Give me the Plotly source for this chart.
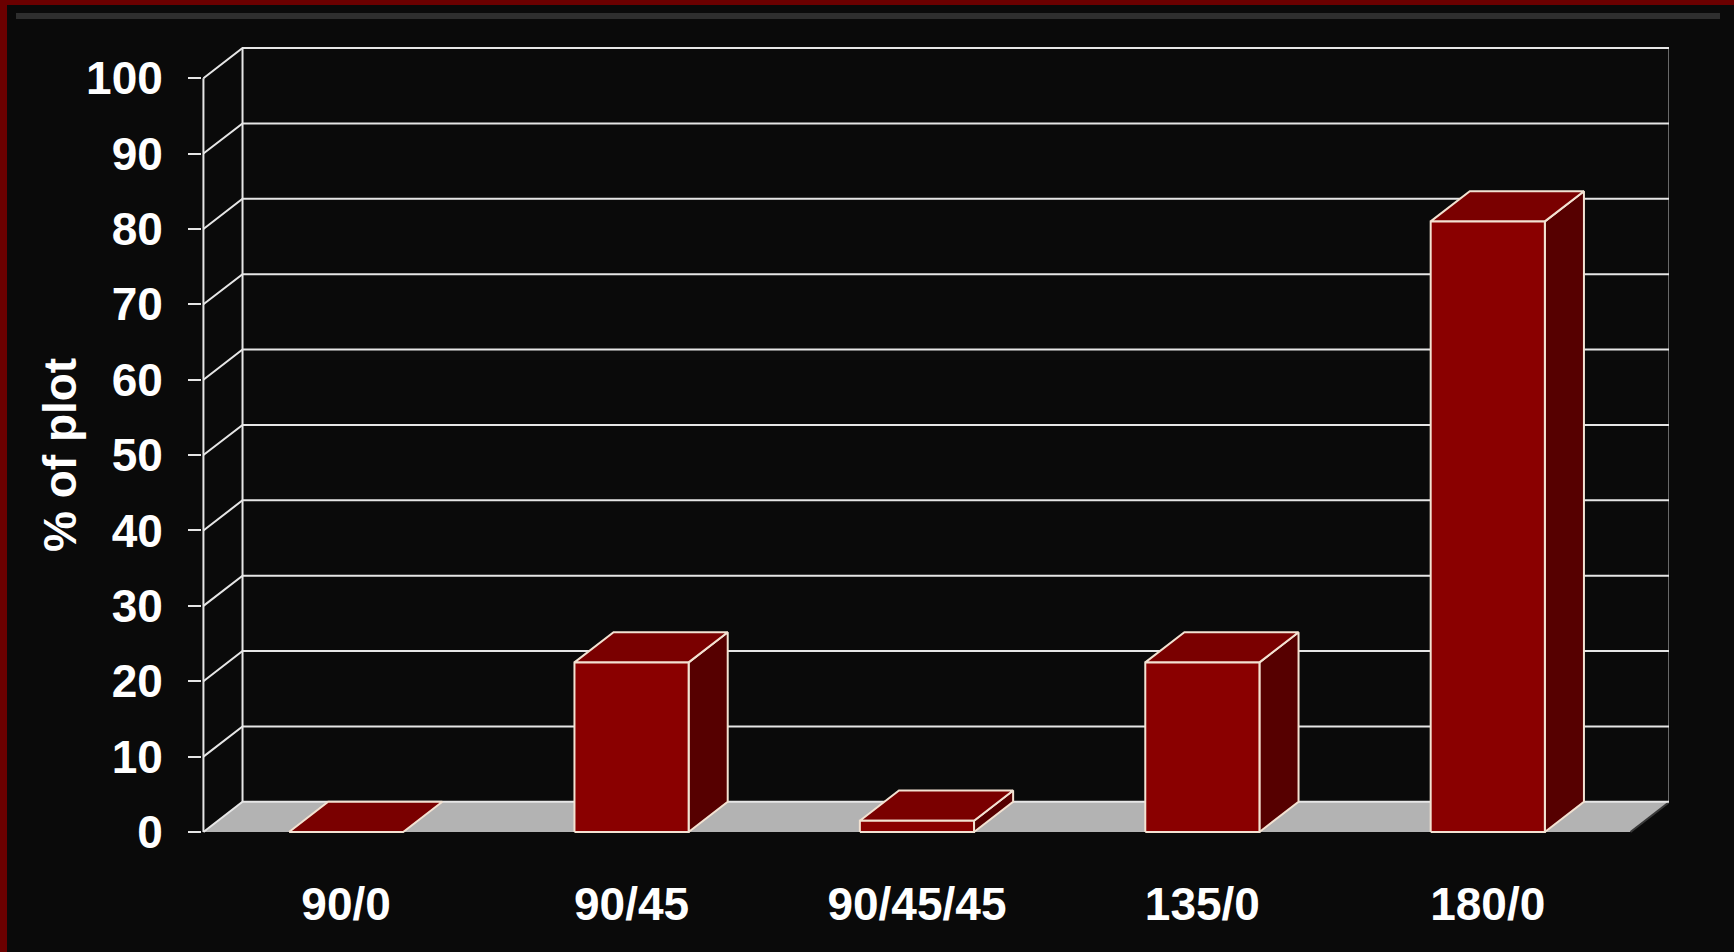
import plotly.graph_objects as go

# ---------------- data ----------------
categories = ["90/0", "90/45", "90/45/45", "135/0", "180/0"]
values = [0, 22.5, 1.5, 22.5, 81]
y_ticks = [0, 10, 20, 30, 40, 50, 60, 70, 80, 90, 100]
y_title = "% of plot"

# ---------------- geometry / style ----------------
W, H = 1734, 952
L, R, T, B = 202, 65, 45, 117
X_RANGE = [-0.005, 5.135]
Y_RANGE = [-0.4, 104.4]
DX, DY = 0.137, 4.0          # depth offset (category units, value units)
HALF = 0.2                   # half bar width in category units
BG = "#0a0a0a"
FRAME = "#6b0000"
GRID = "#e6e6e6"
EDGE = "#f3e2d2"
FLOOR = "#b3b3b3"
FRONT = "#8a0000"
TOP = "#7a0000"
SIDE = "#560000"
FONT = dict(family="Liberation Sans, Arial, sans-serif", size=46, color="white", weight="bold")

PW = W - L - R
PH = H - T - B


def px_x(px):
    return (px - L) / PW


def px_y(py):
    return (H - B - py) / PH


fig = go.Figure()

n = len(categories)
ymax = max(y_ticks)

# floor
fig.add_trace(go.Scatter(
    x=[0, n, n + DX, DX, 0], y=[0, 0, DY, DY, 0],
    fill="toself", fillcolor=FLOOR, mode="lines", line=dict(width=0),
    hoverinfo="skip"))
# dark right floor edge
fig.add_trace(go.Scatter(x=[n, n + DX], y=[0, DY], mode="lines",
                         line=dict(color="#3a3a3a", width=2), hoverinfo="skip"))

# grid lines: back wall horizontals + left wall diagonals
gx, gy = [], []
for v in y_ticks:
    gx += [0, DX, n + DX, None]
    gy += [v, v + DY, v + DY, None]
# wall verticals
gx += [0, 0, None, DX, DX, None, n + DX, n + DX, None]
gy += [0, ymax, None, DY, ymax + DY, None, DY, ymax + DY, None]
fig.add_trace(go.Scatter(x=gx, y=gy, mode="lines",
                         line=dict(color=GRID, width=2), hoverinfo="skip"))

# 3D bars
for i, v in enumerate(values):
    c = i + 0.5
    l, r = c - HALF, c + HALF
    if v > 0:
        fig.add_trace(go.Scatter(
            x=[r, r + DX, r + DX, r, r], y=[0, DY, v + DY, v, 0],
            fill="toself", fillcolor=SIDE, mode="lines",
            line=dict(color=EDGE, width=2), hoverinfo="skip"))
    fig.add_trace(go.Scatter(
        x=[l, r, r + DX, l + DX, l], y=[v, v, v + DY, v + DY, v],
        fill="toself", fillcolor=TOP, mode="lines",
        line=dict(color=EDGE, width=2), hoverinfo="skip"))
    if v > 0:
        fig.add_trace(go.Scatter(
            x=[l, r, r, l, l], y=[0, 0, v, v, 0],
            fill="toself", fillcolor=FRONT, mode="lines",
            line=dict(color=EDGE, width=2), hoverinfo="skip"))

fig.update_layout(
    width=W, height=H, autosize=False,
    margin=dict(l=L, r=R, t=T, b=B, pad=0),
    paper_bgcolor=BG, plot_bgcolor=BG,
    showlegend=False, hovermode=False,
    xaxis=dict(range=X_RANGE, showgrid=False, zeroline=False, showline=False,
               tickmode="array", tickvals=[i + 0.5 for i in range(n)],
               ticktext=categories, ticks="", tickfont=FONT,
               ticklabelstandoff=38, fixedrange=True),
    yaxis=dict(range=Y_RANGE, showgrid=False, zeroline=False, showline=False,
               tickmode="array", tickvals=y_ticks,
               ticktext=[str(v) for v in y_ticks],
               ticks="outside", ticklen=13, tickwidth=2, tickcolor=GRID,
               tickfont=FONT, ticklabelstandoff=16, fixedrange=True),
    annotations=[dict(text=y_title, xref="paper", yref="paper",
                      x=px_x(60), y=px_y(455), textangle=-90,
                      showarrow=False, font=FONT,
                      xanchor="center", yanchor="middle")],
    shapes=[
        dict(type="rect", xref="paper", yref="paper", layer="below",
             x0=px_x(0), x1=px_x(7), y0=px_y(H), y1=px_y(0),
             fillcolor=FRAME, line=dict(width=0)),
        dict(type="rect", xref="paper", yref="paper", layer="below",
             x0=px_x(0), x1=px_x(W), y0=px_y(5), y1=px_y(0),
             fillcolor=FRAME, line=dict(width=0)),
        dict(type="line", xref="paper", yref="paper", layer="below",
             x0=px_x(16), x1=px_x(W - 14), y0=px_y(16), y1=px_y(16),
             line=dict(color="#2e2e2e", width=6)),
    ],
)

fig.write_html(
    "out.html",
    config={"displayModeBar": False},
    post_script="document.body.style.margin='0';document.body.style.overflow='hidden';"
                "document.body.style.background='#0a0a0a';",
)
